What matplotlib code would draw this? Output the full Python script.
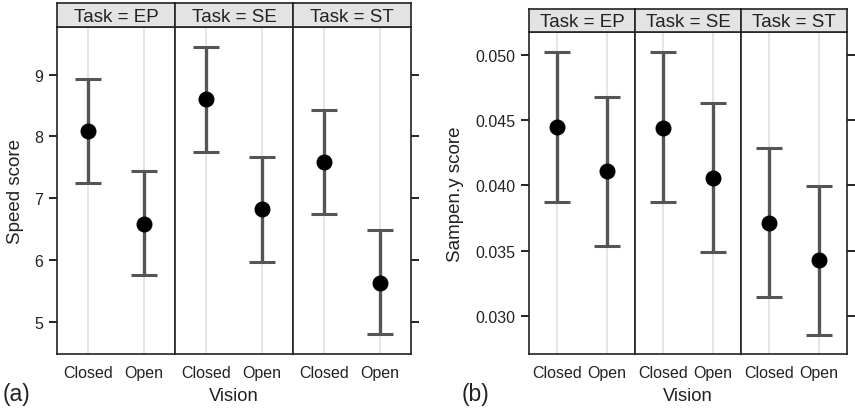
import matplotlib
matplotlib.use("Agg")
import matplotlib.pyplot as plt

plt.rcParams["font.family"] = ["Liberation Sans", "DejaVu Sans"]

W, H = 855, 410

tasks = ["EP", "SE", "ST"]
vision = ["Closed", "Open"]

# panel (a): speed score, point estimate with lower / upper interval
speed_mean = [[8.08, 6.59], [8.60, 6.82], [7.59, 5.63]]
speed_lo = [[7.24, 5.76], [7.75, 5.97], [6.74, 4.80]]
speed_hi = [[8.93, 7.44], [9.44, 7.66], [8.42, 6.48]]
speed_ticks = [5, 6, 7, 8, 9]

# panel (b): sampen.y score
samp_mean = [[0.04445, 0.04107], [0.04440, 0.04059], [0.03714, 0.03427]]
samp_lo = [[0.03875, 0.03537], [0.03872, 0.03488], [0.03143, 0.02857]]
samp_hi = [[0.05020, 0.04678], [0.05018, 0.04634], [0.04286, 0.03997]]
samp_ticks = [0.030, 0.035, 0.040, 0.045, 0.050]
samp_labels = ["0.030", "0.035", "0.040", "0.045", "0.050"]

LINE = "#555555"
TXT = "#222222"


def px_axes(fig, x0, y0, x1, y1):
    # pixel box (top-left origin) -> figure axes
    return fig.add_axes([x0 / W, 1 - y1 / H, (x1 - x0) / W, (y1 - y0) / H])


def panel(fig, left, right, strip_top, top, bottom, means, los, his,
          ylim, ticks, ticklabels, ylabel, tag, ylabel_x, tag_x):
    width = (right - left) / 3
    xs = [1, 2]
    for i, task in enumerate(tasks):
        x0 = left + i * width
        x1 = x0 + width
        ax = px_axes(fig, x0, top, x1, bottom)
        for x in xs:
            ax.axvline(x, color="#e0e0e0", lw=1.2, zorder=0)
        ax.errorbar(xs, means[i],
                    yerr=[[m - lo for m, lo in zip(means[i], los[i])],
                          [hi - m for m, hi in zip(means[i], his[i])]],
                    fmt="none", ecolor=LINE, elinewidth=2.4, capsize=9.5,
                    capthick=2.2, zorder=2)
        ax.plot(xs, means[i], "o", color="black", ms=10.5, zorder=3)
        ax.set_xlim(0.44, 2.56)
        ax.set_ylim(*ylim)
        ax.set_xticks(xs)
        ax.set_xticklabels(vision, fontsize=11.5, color=TXT)
        ax.tick_params(axis="x", length=0, pad=8)
        ax.set_yticks(ticks)
        if i == 0:
            ax.set_yticklabels(ticklabels, fontsize=11.5, color=TXT)
            ax.tick_params(axis="y", direction="out", length=6, width=1.2,
                           left=True, right=False, pad=4)
        elif i == 2:
            ax.tick_params(axis="y", direction="out", length=6, width=1.2,
                           left=False, right=True, labelleft=False)
        else:
            ax.tick_params(axis="y", left=False, labelleft=False)
        for s in ax.spines.values():
            s.set_linewidth(1.2)
            s.set_color(TXT)

        st = px_axes(fig, x0, strip_top, x1, top)
        st.set_facecolor("#e3e3e3")
        st.set_xticks([])
        st.set_yticks([])
        for s in st.spines.values():
            s.set_linewidth(1.2)
            s.set_color(TXT)
        st.text(0.5, 0.45, f"Task = {task}", ha="center", va="center",
                fontsize=13.5, color=TXT, transform=st.transAxes)

    fig.text(ylabel_x / W, 1 - (top + bottom) / 2 / H, ylabel, rotation=90,
             ha="center", va="center", fontsize=13.5, color=TXT)
    fig.text((left + right) / 2 / W, 1 - 397 / H, "Vision", ha="center",
             va="center", fontsize=13.2, color=TXT)
    fig.text(tag_x / W, 1 - 395 / H, tag, ha="left", va="center",
             fontsize=16.5, color=TXT)


fig = plt.figure(figsize=(W / 100, H / 100), dpi=100)

panel(fig, 57, 411, 4, 28, 355, speed_mean, speed_lo, speed_hi,
      (4.48, 9.77), speed_ticks, [str(t) for t in speed_ticks],
      "Speed score", "(a)", 15, 3)
panel(fig, 529, 847, 10, 33, 355, samp_mean, samp_lo, samp_hi,
      (0.02708, 0.05174), samp_ticks, samp_labels,
      "Sampen.y score", "(b)", 455, 462)

fig.savefig("out.png", dpi=100)
